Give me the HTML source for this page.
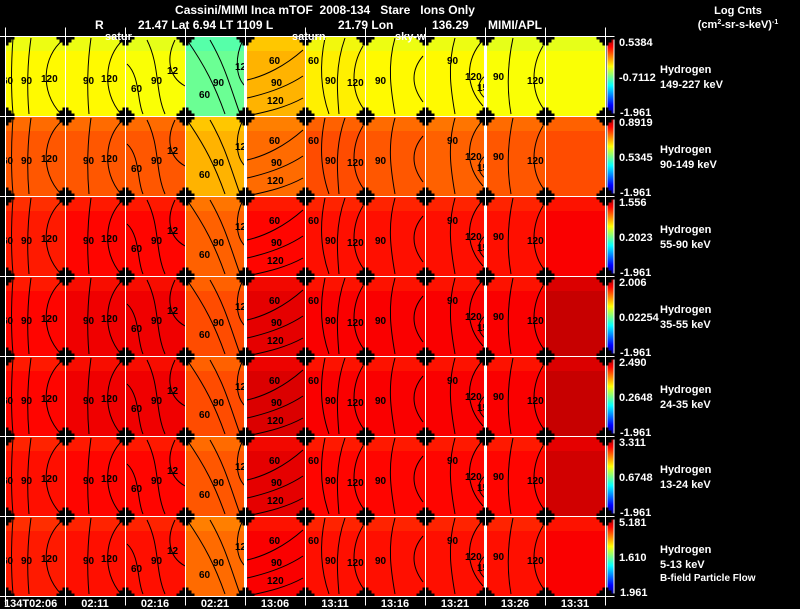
<!DOCTYPE html>
<html><head><meta charset="utf-8"><style>
html,body{margin:0;padding:0;background:#000;}
svg{display:block;font-family:"Liberation Sans",sans-serif;}
text{white-space:pre;}
</style></head><body>
<svg id="c" width="800" height="609" viewBox="0 0 800 609">
<rect width="800" height="609" fill="#000"/>
<g id="panels"></g>
<g id="deco"></g>
<g fill="#fff" font-size="12" font-weight="bold">
<text x="325" y="14" text-anchor="middle">Cassini/MIMI Inca mTOF  2008-134   Stare   Ions Only</text>
<text x="95" y="29">R</text>
<text x="138" y="29">21.47 Lat 6.94 LT 1109 L</text>
<text x="338" y="29">21.79 Lon</text>
<text x="432" y="29">136.29</text>
<text x="488" y="29">MIMI/APL</text>
<text x="738" y="14" text-anchor="middle" font-size="11">Log Cnts</text>
<text x="738" y="28" text-anchor="middle" font-size="11">(cm<tspan font-size="7" dy="-4">2</tspan><tspan dy="4">-sr-s-keV)</tspan><tspan font-size="7" dy="-4">-1</tspan></text>
<text x="105" y="40" font-size="11">satur</text>
<text x="292" y="40" font-size="11">saturn</text>
<text x="395" y="40" font-size="11">sky-w</text>
<text x="660" y="581" font-size="10">B-field Particle Flow</text>
</g>
</svg>
<script>
const timeLabels=["134T02:06","02:11","02:16","02:21","13:06","13:11","13:16","13:21","13:26","13:31"];
const speciesRanges=["149-227 keV","90-149 keV","55-90 keV","35-55 keV","24-35 keV","13-24 keV","5-13 keV"];
const cbMax=["0.5384","0.8919","1.556","2.006","2.490","3.311","5.181"];
const cbMid=["-0.7112","0.5345","0.2023","0.02254","0.2648","0.6748","1.610"];
const cbMin=["-1.961","-1.961","-1.961","-1.961","-1.961","-1.961","1.961"];
// panel mean levels on jet scale (0..1), row by row, 10 columns
const row1=[0.63,0.63,0.62,0.48,0.70,0.64,0.63,0.63,0.62,0.62];
const row2=[0.79,0.79,0.79,0.70,0.77,0.80,0.79,0.78,0.79,0.80];
const row3=[0.85,0.87,0.87,0.78,0.87,0.86,0.86,0.86,0.86,0.88];
const row4=[0.87,0.89,0.89,0.80,0.90,0.88,0.88,0.88,0.88,0.93];
const row5=[0.87,0.89,0.89,0.80,0.91,0.88,0.88,0.88,0.88,0.93];
const row6=[0.86,0.87,0.87,0.79,0.90,0.87,0.87,0.87,0.87,0.92];
const row7=[0.85,0.86,0.86,0.77,0.88,0.86,0.86,0.86,0.86,0.88];
const rows=[row1,row2,row3,row4,row5,row6,row7];

const NS="http://www.w3.org/2000/svg";
const P=document.getElementById('panels');
const D=document.getElementById('deco');
function mk(t,a,p){const e=document.createElementNS(NS,t);for(const k in a)e.setAttribute(k,a[k]);(p||D).appendChild(e);return e;}
function jet(v){v=Math.max(0,Math.min(1,v));
 const r=Math.max(0,Math.min(1,1.5-Math.abs(4*v-3))),g=Math.max(0,Math.min(1,1.5-Math.abs(4*v-2))),b=Math.max(0,Math.min(1,1.5-Math.abs(4*v-1)));
 return `rgb(${Math.round(r*255)},${Math.round(g*255)},${Math.round(b*255)})`;}
const X0=5,CW=60,Y0=36,RH=80;
const xAt=c=>X0+c*CW, yAt=r=>Y0+r*RH;
const curves={
 A:[["M8,2 C6,30 6,55 8,78","60",-3,48],["M26,2 C22,30 22,55 24,78","90",16,48],["M58,4 C38,20 34,55 56,78","120",36,46]],
 B:[["M26,2 C22,30 22,55 24,78","90",18,48],["M58,4 C40,20 36,55 56,78","120",36,46]],
 C:[["M2,28 C15,40 12,65 18,78","60",6,56],["M22,4 C35,30 30,55 40,78","90",26,48],["M50,4 C42,20 42,40 60,50","12",42,38]],
 D:[["M2,4 C20,30 30,50 40,78","60",14,62],["M25,4 C40,30 45,50 55,78","90",28,50],["M58,4 C50,20 50,40 60,50","12",50,34]],
 E:[["M2,44 C20,40 40,30 58,14","60",24,28],["M2,62 C20,58 40,52 58,40","90",26,50],["M2,80 C20,76 40,72 58,62","120",22,68]],
 F:[["M20,2 C14,30 16,55 24,78","60",3,28],["M40,2 C30,30 32,55 34,78","90",20,48],["M58,10 C46,30 46,55 58,72","120",42,50]],
 G:[["M30,2 C22,30 26,55 30,78","90",10,48],["M58,20 C46,34 46,50 58,66","",0,0]],
 H:[["M30,2 C22,30 26,55 30,78","90",22,28],["M58,4 C40,24 40,50 58,70","120",40,44],["M60,40 C52,46 52,56 60,62","15",52,55]],
 I:[["M28,2 C22,30 22,55 26,78","90",8,44],["M58,10 C46,30 46,55 58,72","120",42,48]],
 J:[]
};
const colType=["A","B","C","D","E","F","G","H","I","J"];
rows.forEach((vals,r)=>{
 vals.forEach((v,c)=>{
  const x=xAt(c),y=yAt(r);
  const rc=mk('rect',{x:x+1,y:y+1,width:CW-1,height:RH-1,fill:jet(v)},P);
  
  
  mk('rect',{x:x+1,y:y+1,width:CW-1,height:14,fill:jet(v-0.04),opacity:0.5},P);
  const g=mk('g',{transform:`translate(${x},${y})`},P);
  curves[colType[c]].forEach(cv=>{
   mk('path',{d:cv[0],fill:'none',stroke:'#000','stroke-width':1},g);
   if(cv[1]){const t=mk('text',{x:cv[2],y:cv[3],'font-size':10,'font-weight':'bold',fill:'#000'},g);t.textContent=cv[1];}
  });
 });
 const cy=yAt(r);
 const gid='cb'+r;
 const defs=mk('defs',{});
 const lg=mk('linearGradient',{id:gid,x1:0,y1:1,x2:0,y2:0},defs);
 [0,0.125,0.375,0.625,0.875,1].forEach(s=>mk('stop',{offset:s,'stop-color':jet(s)},lg));
 const cb=mk('rect',{x:607,y:cy+1,width:7,height:RH-2,fill:`url(#${gid})`,stroke:'#fff','stroke-width':1});
 
 
 const t1=mk('text',{x:619,y:cy+10,'font-size':11,'font-weight':'bold',fill:'#fff'});t1.textContent=cbMax[r];
 
 
 const t2=mk('text',{x:619,y:cy+45,'font-size':11,'font-weight':'bold',fill:'#fff'});t2.textContent=cbMid[r];
 
 
 const t3=mk('text',{x:620,y:cy+RH,'font-size':11,'font-weight':'bold',fill:'#fff'});t3.textContent=cbMin[r];
 
 
 const s1=mk('text',{x:660,y:cy+37,'font-size':11,'font-weight':'bold',fill:'#fff'});s1.textContent="Hydrogen";
 
 
 const s2=mk('text',{x:660,y:cy+52,'font-size':11,'font-weight':'bold',fill:'#fff'});s2.textContent=speciesRanges[r];
 
 
});
for(let c=0;c<=10;c++){const x=xAt(c);mk('line',{x1:x+0.5,y1:Y0,x2:x+0.5,y2:yAt(7),stroke:'#fff','stroke-width':(c==4||c==8)?3:1});}
for(let r=0;r<=7;r++){const y=yAt(r);mk('line',{x1:X0,y1:y+0.5,x2:xAt(10),y2:y+0.5,stroke:'#fff','stroke-width':1});}
for(let r=0;r<=7;r++)for(let c=0;c<=10;c++){
 const x=xAt(c)+0.5,y=yAt(r)+0.5;
 mk('rect',{x:x-9,y:y-3,width:18,height:6,fill:'#000'});
 mk('rect',{x:x-3,y:y-9,width:6,height:18,fill:'#000'});
 mk('rect',{x:x-6,y:y-6,width:12,height:12,fill:'#000'});
 mk('line',{x1:x-9,y1:y,x2:x+9,y2:y,stroke:'#fff','stroke-width':1});
 mk('line',{x1:x,y1:y-9,x2:x,y2:y+9,stroke:'#fff','stroke-width':1});
}
timeLabels.forEach((t,c)=>{
 const e=mk('text',{x:c==0?4:xAt(c)+30,y:607,'font-size':11,'font-weight':'bold',fill:'#fff','text-anchor':c==0?'start':'middle'});
 e.textContent=t;
 
 
});
</script>
</body></html>
